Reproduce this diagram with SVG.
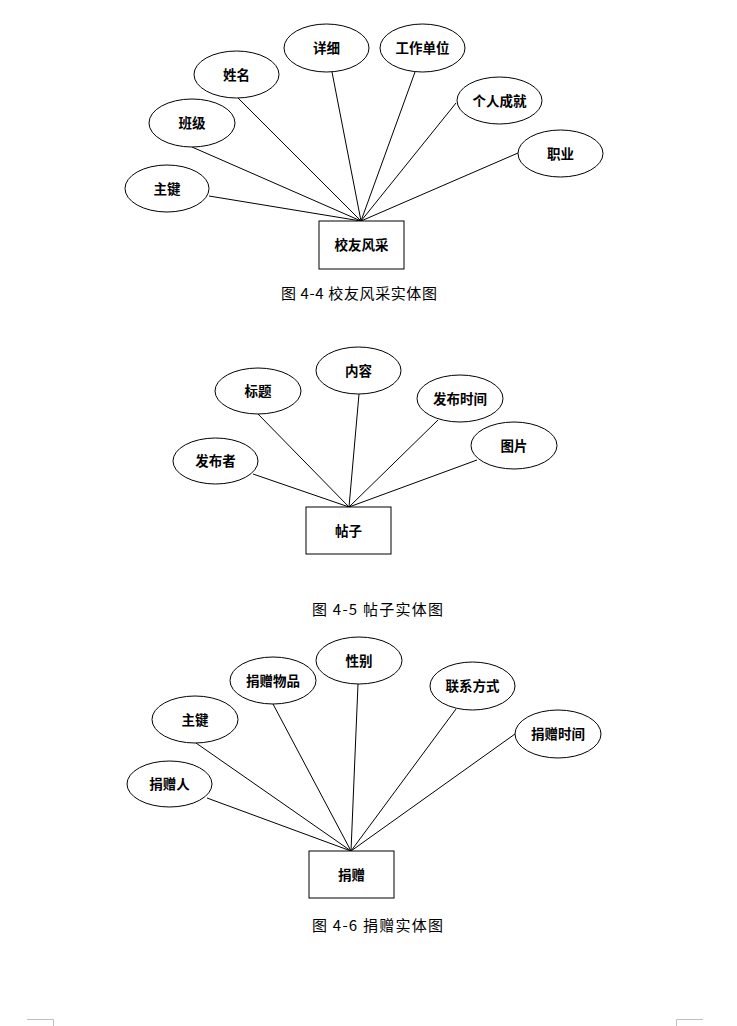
<svg xmlns="http://www.w3.org/2000/svg" width="737" height="1026" viewBox="0 0 737 1026">
<style>
.e{fill:#fff;stroke:#000;stroke-width:1}
.r{fill:#fff;stroke:#000;stroke-width:1}
.t{font-family:"Noto Sans CJK SC","Noto Sans",sans-serif;font-size:13.5px;font-weight:bold;fill:#000;text-anchor:middle}
.c{font-family:"Noto Sans CJK SC","Noto Sans",sans-serif;font-size:15px;fill:#000;text-anchor:middle}
.l line{stroke:#000;stroke-width:1}
.m{stroke:#bfbfbf;stroke-width:1;fill:none}
</style>
<rect width="737" height="1026" fill="#fff"/>

<!-- Figure 4-4 -->
<g id="connectors-44" class="l">
<line x1="209" y1="196" x2="361" y2="221"/>
<line x1="192" y1="147" x2="361" y2="221"/>
<line x1="238" y1="98" x2="361" y2="221"/>
<line x1="332" y1="72" x2="361" y2="221"/>
<line x1="415" y1="72" x2="361" y2="221"/>
<line x1="456" y1="103" x2="361" y2="221"/>
<line x1="518" y1="153" x2="361" y2="221"/>
</g>
<g id="n44-zhujian"><ellipse class="e" cx="167" cy="188.5" rx="42" ry="23.5"/><text class="t" x="167" y="193.5">主键</text></g>
<g id="n44-banji"><ellipse class="e" cx="192" cy="123" rx="43" ry="24"/><text class="t" x="192" y="128">班级</text></g>
<g id="n44-xingming"><ellipse class="e" cx="236.5" cy="74.5" rx="42.5" ry="23.5"/><text class="t" x="236.5" y="79.5">姓名</text></g>
<g id="n44-xiangxi"><ellipse class="e" cx="326.5" cy="48" rx="42.5" ry="24"/><text class="t" x="326.5" y="53">详细</text></g>
<g id="n44-gongzuodanwei"><ellipse class="e" cx="422.5" cy="48" rx="42.5" ry="24"/><text class="t" x="422.5" y="53">工作单位</text></g>
<g id="n44-gerenchengjiu"><ellipse class="e" cx="499.5" cy="100.5" rx="42.5" ry="23.5"/><text class="t" x="499.5" y="105.5">个人成就</text></g>
<g id="n44-zhiye"><ellipse class="e" cx="560.5" cy="153.5" rx="42.5" ry="23.5"/><text class="t" x="560.5" y="158.5">职业</text></g>
<g id="n44-xiaoyoufengcai"><rect class="r" x="319" y="221" width="85" height="48"/><text class="t" x="361.5" y="250">校友风采</text></g>
<text class="c" x="359" y="298.5" textLength="156" lengthAdjust="spacing" xml:space="preserve">图 4-4 校友风采实体图</text>

<!-- Figure 4-5 -->
<g id="connectors-45" class="l">
<line x1="253" y1="474" x2="349" y2="507"/>
<line x1="258" y1="414" x2="349" y2="507"/>
<line x1="359" y1="394" x2="349" y2="507"/>
<line x1="438" y1="420" x2="349" y2="507"/>
<line x1="477" y1="460" x2="349" y2="507"/>
</g>
<g id="n45-fabuzhe"><ellipse class="e" cx="215.5" cy="461" rx="42.5" ry="23"/><text class="t" x="215.5" y="466">发布者</text></g>
<g id="n45-biaoti"><ellipse class="e" cx="258" cy="391" rx="43" ry="23"/><text class="t" x="258" y="396">标题</text></g>
<g id="n45-neirong"><ellipse class="e" cx="358.5" cy="370.5" rx="42.5" ry="23.5"/><text class="t" x="358.5" y="375.5">内容</text></g>
<g id="n45-fabushijian"><ellipse class="e" cx="460" cy="398.5" rx="43" ry="23.5"/><text class="t" x="460" y="403.5">发布时间</text></g>
<g id="n45-tupian"><ellipse class="e" cx="514" cy="445.5" rx="43" ry="23.5"/><text class="t" x="514" y="450.5">图片</text></g>
<g id="n45-tiezi"><rect class="r" x="306" y="507" width="85" height="47"/><text class="t" x="348.5" y="535.5">帖子</text></g>
<text class="c" x="377.5" y="614.5" textLength="131" lengthAdjust="spacing" xml:space="preserve">图 4-5 帖子实体图</text>

<!-- Figure 4-6 -->
<g id="connectors-46" class="l">
<line x1="207" y1="798" x2="351" y2="851"/>
<line x1="196" y1="743" x2="351" y2="851"/>
<line x1="273" y1="704" x2="351" y2="851"/>
<line x1="358" y1="684" x2="351" y2="851"/>
<line x1="456" y1="709" x2="351" y2="851"/>
<line x1="515" y1="734" x2="351" y2="851"/>
</g>
<g id="n46-juanzengren"><ellipse class="e" cx="169.5" cy="784" rx="42.5" ry="23"/><text class="t" x="169.5" y="789">捐赠人</text></g>
<g id="n46-zhujian"><ellipse class="e" cx="195" cy="719.5" rx="43" ry="23.5"/><text class="t" x="195" y="724.5">主键</text></g>
<g id="n46-juanzengwupin"><ellipse class="e" cx="273" cy="680.5" rx="43" ry="23.5"/><text class="t" x="273" y="685.5">捐赠物品</text></g>
<g id="n46-xingbie"><ellipse class="e" cx="359" cy="660.5" rx="43" ry="23.5"/><text class="t" x="359" y="665.5">性别</text></g>
<g id="n46-lianxifangshi"><ellipse class="e" cx="472.5" cy="686" rx="42.5" ry="24"/><text class="t" x="472.5" y="691">联系方式</text></g>
<g id="n46-juanzengshijian"><ellipse class="e" cx="558" cy="734" rx="43" ry="24"/><text class="t" x="558" y="739">捐赠时间</text></g>
<g id="n46-juanzeng"><rect class="r" x="309" y="851" width="85" height="47"/><text class="t" x="351.5" y="879.5">捐赠</text></g>
<text class="c" x="377.5" y="930.5" textLength="131" lengthAdjust="spacing" xml:space="preserve">图 4-6 捐赠实体图</text>

<!-- page corner marks -->
<path class="m" d="M27 1019.5H53.5V1026"/>
<path class="m" d="M703 1019.5H676.5V1026"/>
</svg>
